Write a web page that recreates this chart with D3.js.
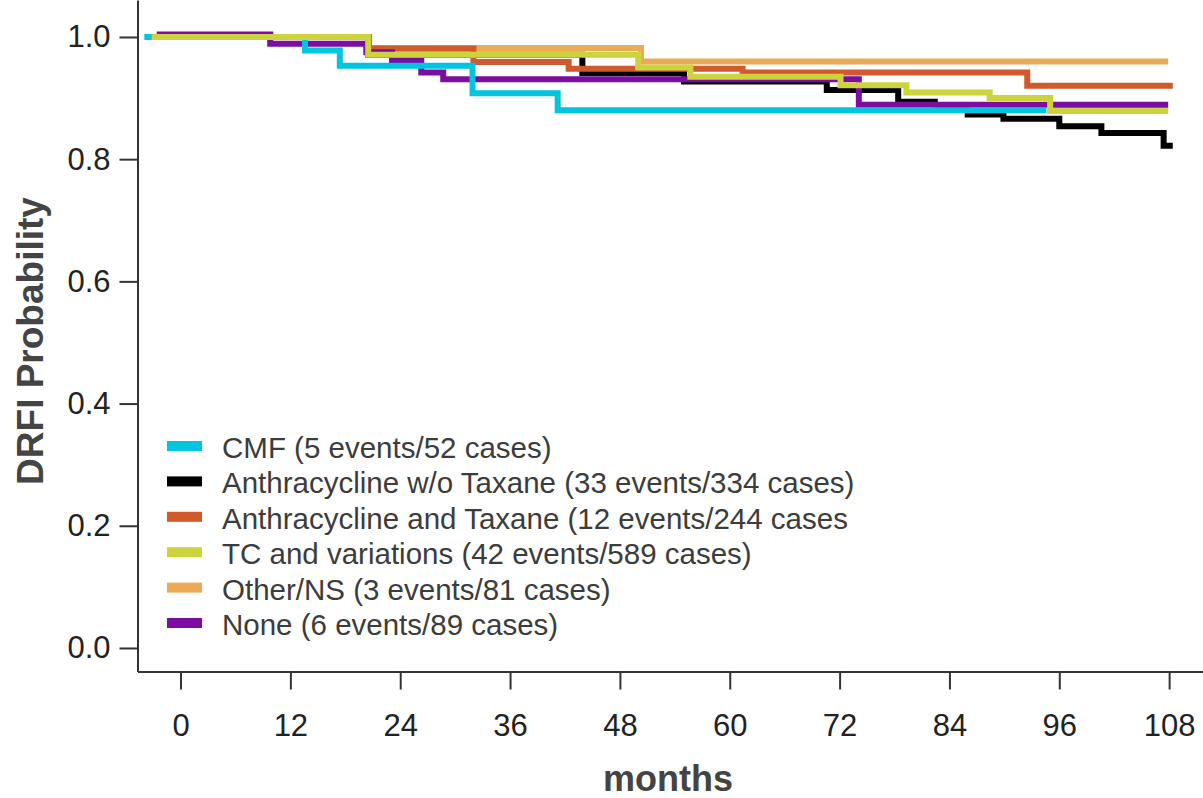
<!DOCTYPE html>
<html>
<head>
<meta charset="utf-8">
<script src="https://cdn.jsdelivr.net/npm/d3@7/dist/d3.min.js"></script>
<style>
    body { margin: 0; background: #fff; }
    svg text { font-family: "Liberation Sans", Arial, sans-serif; }
</style>
</head>
<body>
<div id="chart"></div>
<script>
// legend / series labels (legend order)
var seriesNames = [
    "CMF (5 events/52 cases)",
    "Anthracycline w/o Taxane (33 events/334 cases)",
    "Anthracycline and Taxane (12 events/244 cases",
    "TC and variations (42 events/589 cases)",
    "Other/NS (3 events/81 cases)",
    "None (6 events/89 cases)"
];
var seriesColors = ["#00c5e0", "#000000", "#d05a2c", "#cdd33c", "#edaa56", "#7b0ea0"];

// step curves: event times (months) and survival after each step
var cmfTimes = [-3.95, 13.6, 17.4, 31.9, 41.2, 94.6];
var cmfSurv = [1.0, 0.978, 0.953, 0.908, 0.880, 0.880];

var anthraTimes = [-3.1, 20.5, 43.9, 55.0, 70.6, 78.4, 82.4, 86.0, 89.9, 96.0, 100.6, 107.4, 108.4];
var anthraSurv = [1.0, 0.971, 0.941, 0.927, 0.913, 0.894, 0.885, 0.873, 0.866, 0.854, 0.843, 0.822, 0.822];

var anthraTaxTimes = [-3.1, 20.6, 32.0, 42.4, 61.4, 92.5, 108.4];
var anthraTaxSurv = [1.0, 0.981, 0.959, 0.948, 0.942, 0.920, 0.920];

var tcTimes = [-3.15, 20.5, 50.0, 55.7, 72.1, 79.3, 88.4, 95.0, 107.9];
var tcSurv = [1.0, 0.971, 0.950, 0.935, 0.921, 0.909, 0.900, 0.879, 0.879];

var otherTimes = [-3.1, 20.5, 50.3, 107.9];
var otherSurv = [1.0, 0.982, 0.960, 0.960];

var noneTimes = [-2.6, 9.8, 20.3, 23.1, 26.3, 28.7, 74.1, 107.9];
var noneSurv = [1.004, 0.989, 0.975, 0.962, 0.942, 0.931, 0.889, 0.889];

var xTicks = [0, 12, 24, 36, 48, 60, 72, 84, 96, 108];
var yTicks = [0.0, 0.2, 0.4, 0.6, 0.8, 1.0];

var width = 1203, height = 798;

var svg = d3.select("#chart").append("svg")
    .attr("width", width)
    .attr("height", height)
    .style("display", "block");

var x = d3.scaleLinear().domain([-4.7, 111.7]).range([137.5, 1203]);
var y = d3.scaleLinear().domain([-0.0385, 1.0605]).range([671.5, 0]);

// axes
var xAxis = svg.append("g")
    .attr("transform", "translate(0,671.5)")
    .call(d3.axisBottom(x).tickValues(xTicks).tickSize(18).tickSizeOuter(0).tickPadding(24));
var yAxis = svg.append("g")
    .attr("transform", "translate(137.5,0)")
    .call(d3.axisLeft(y).tickValues(yTicks).tickSize(18).tickSizeOuter(0).tickPadding(9)
        .tickFormat(d3.format(".1f")));

[xAxis, yAxis].forEach(function (ax) {
    ax.select(".domain").attr("stroke", "#333").attr("stroke-width", 2);
    ax.selectAll(".tick line").attr("stroke", "#333").attr("stroke-width", 2);
    ax.selectAll(".tick text")
        .attr("fill", "#222")
        .style("font-size", "31px");
});

// curves, drawn in this order so overlaps look like the original
var curves = [
    {t: otherTimes, s: otherSurv, c: 4},
    {t: anthraTimes, s: anthraSurv, c: 1},
    {t: anthraTaxTimes, s: anthraTaxSurv, c: 2},
    {t: noneTimes, s: noneSurv, c: 5},
    {t: cmfTimes, s: cmfSurv, c: 0},
    {t: tcTimes, s: tcSurv, c: 3}
];

var line = d3.line()
    .x(function (d) { return x(d[0]); })
    .y(function (d) { return y(d[1]); })
    .curve(d3.curveStepAfter);

svg.append("g").selectAll("path")
    .data(curves)
    .enter().append("path")
    .attr("d", function (d) {
        return line(d.t.map(function (t, i) { return [t, d.s[i]]; }));
    })
    .attr("fill", "none")
    .attr("stroke", function (d) { return seriesColors[d.c]; })
    .attr("stroke-width", 6);

// legend
var legend = svg.append("g").selectAll("g")
    .data(seriesNames)
    .enter().append("g")
    .attr("transform", function (d, i) { return "translate(167," + (446 + i * 35.4) + ")"; });

legend.append("rect")
    .attr("x", 0)
    .attr("y", -5)
    .attr("width", 35)
    .attr("height", 10)
    .attr("fill", function (d, i) { return seriesColors[i]; });

legend.append("text")
    .attr("x", 55)
    .attr("y", 12)
    .attr("fill", "#3c3c3c")
    .style("font-size", "29.5px")
    .text(function (d) { return d; });

// axis titles
svg.append("text")
    .attr("x", 668)
    .attr("y", 791)
    .attr("text-anchor", "middle")
    .attr("fill", "#444")
    .style("font-size", "36px")
    .style("font-weight", "bold")
    .text("months");

svg.append("text")
    .attr("transform", "translate(43,341) rotate(-90)")
    .attr("text-anchor", "middle")
    .attr("fill", "#444")
    .style("font-size", "37px")
    .style("font-weight", "bold")
    .text("DRFI Probability");
</script>
</body>
</html>
